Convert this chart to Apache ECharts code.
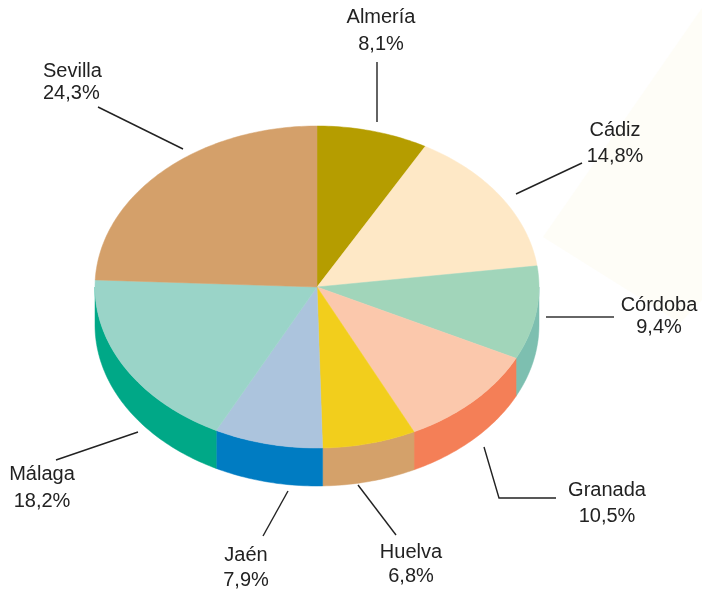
<!DOCTYPE html>
<html>
<head>
<meta charset="utf-8">
<script src="https://cdn.jsdelivr.net/npm/echarts@6/dist/echarts.min.js"></script>
<style>
  html, body { margin: 0; padding: 0; background: #ffffff; }
  #chart { width: 702px; height: 593px; }
</style>
</head>
<body>
<div id="chart"></div>
<script>
// Provincias de Andalucía y su porcentaje
const provinces = ['Almería', 'Cádiz', 'Córdoba', 'Granada', 'Huelva', 'Jaén', 'Málaga', 'Sevilla'];
const shares = [8.1, 14.8, 9.4, 10.5, 6.8, 7.9, 18.2, 24.3];

// Colours of the top face and of the visible rim of each slice
const topColors  = ['#B59D00', '#FEE8C6', '#A1D5BA', '#FBC8AC', '#F2CE1C', '#ACC4DD', '#9AD4C8', '#D4A06A'];
const sideColors = ['#9A8600', '#E8CFA8', '#7DBFB0', '#F47F57', '#D4A16A', '#007CC2', '#00A887', '#B8874F'];

// Label placement: text box, alignment, line height and leader polyline
const labelLayout = [
  { x: 381, y: 4,   align: 'center', lh: 27, line: [[377, 62], [377, 122]] },
  { x: 615, y: 117, align: 'center', lh: 26, line: [[582, 163], [516, 194]] },
  { x: 659, y: 294, align: 'center', lh: 22, line: [[546, 317], [614, 317]], color: '#666666', width: 2 },
  { x: 607, y: 477, align: 'center', lh: 26, line: [[484, 447], [499, 498], [556, 498]] },
  { x: 411, y: 540, align: 'center', lh: 24, line: [[358, 485], [396, 535]] },
  { x: 246, y: 543, align: 'center', lh: 25, line: [[288, 491], [263, 536]] },
  { x: 42,  y: 461, align: 'center', lh: 27, line: [[138, 432], [56, 460]] },
  { x: 43,  y: 60,  align: 'left',   lh: 22, line: [[98, 107], [183, 149]] }
];

// Ellipse used for the tilted disc
const disc = { cx: 317, cy: 287, rx: 222, ry: 161, depth: 38 };

const total = shares.reduce((a, b) => a + b, 0);
const startFrac = [];
shares.reduce((acc, v, i) => { startFrac[i] = acc; return acc + v; }, 0);

function pt(t, dy) {
  return [disc.cx + disc.rx * Math.sin(t), disc.cy - disc.ry * Math.cos(t) + (dy || 0)];
}

function arc(a0, a1, dy) {
  const pts = [];
  const n = Math.max(2, Math.ceil(Math.abs(a1 - a0) / (Math.PI / 180)));
  for (let k = 0; k <= n; k++) pts.push(pt(a0 + (a1 - a0) * k / n, dy));
  return pts;
}

function fmt(v) {
  return v.toFixed(1).replace('.', ',') + '%';
}

function renderItem(params, api) {
  const i = params.dataIndex;
  const v = api.value(0);
  const a0 = startFrac[i] / total * Math.PI * 2;
  const a1 = (startFrac[i] + v) / total * Math.PI * 2;
  const children = [];

  // front rim: part of the slice between 90° and 270° (clockwise from top)
  const s = Math.max(a0, Math.PI / 2), e = Math.min(a1, Math.PI * 3 / 2);
  if (e > s) {
    const pts = arc(s, e, 0).concat(arc(e, s, disc.depth));
    children.push({
      type: 'polygon', z2: 1,
      shape: { points: pts },
      style: { fill: sideColors[i], stroke: sideColors[i], lineWidth: 0.5 }
    });
  }

  // top face
  children.push({
    type: 'polygon', z2: 5,
    shape: { points: [[disc.cx, disc.cy]].concat(arc(a0, a1, 0)) },
    style: { fill: topColors[i], stroke: topColors[i], lineWidth: 0.5 }
  });

  // leader line and label
  const L = labelLayout[i];
  children.push({
    type: 'polyline', z2: 10,
    shape: { points: L.line },
    style: { stroke: L.color || '#222222', lineWidth: L.width || 1.4, fill: null }
  });
  children.push({
    type: 'text', z2: 10,
    style: {
      x: L.x, y: L.y,
      text: provinces[i] + '\n' + fmt(v),
      align: L.align, verticalAlign: 'top',
      lineHeight: L.lh,
      font: '20px "Liberation Sans", Arial, sans-serif',
      fill: '#222222'
    }
  });
  return { type: 'group', children: children };
}

const chart = echarts.init(document.getElementById('chart'), null, { renderer: 'canvas' });
chart.setOption({
  backgroundColor: '#ffffff',
  animation: false,
  graphic: [{
    // faint decorative diamond in the upper right corner
    type: 'polygon', z: -10, silent: true,
    shape: { points: [[543, 237], [702, 8], [702, 300], [680, 323]] },
    style: { fill: '#FEFDF7' }
  }],
  series: [{
    type: 'custom',
    coordinateSystem: 'none',
    renderItem: renderItem,
    data: shares.map((v, i) => ({ name: provinces[i], value: [v] }))
  }]
});
</script>
</body>
</html>
